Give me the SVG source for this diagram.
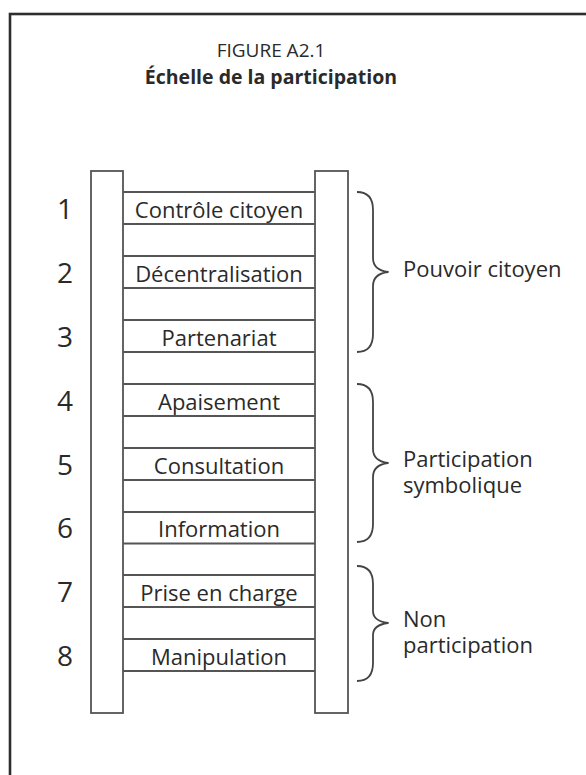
<svg xmlns="http://www.w3.org/2000/svg" width="586" height="775" viewBox="0 0 586 775">
<style>
  .frame{fill:none;stroke:#2e2e2e;stroke-width:2.6}
  .rail{fill:#fff;stroke:#555;stroke-width:1.8}
  .rung{stroke:#555;stroke-width:1.8}
  .t{font-family:"Open Sans","Liberation Sans",sans-serif;fill:#2a2a2a}
  .lab{font-size:22px;text-anchor:middle}
  .num{font-size:28px;text-anchor:middle}
  .side{font-size:22px}
  .brace{fill:none;stroke:#444;stroke-width:1.8;stroke-linejoin:round}
</style>
<rect width="586" height="775" fill="#fff"/>
<rect class="frame" x="10" y="14" width="620" height="800"/>
<g id="title">
  <text class="t" x="271" y="57" font-size="19" text-anchor="middle">FIGURE A2.1</text>
  <text class="t" x="271" y="84" font-size="19.5" font-weight="bold" text-anchor="middle">Échelle de la participation</text>
</g>
<g id="ladder">
  <rect class="rail" x="91" y="171" width="32" height="542"/>
  <rect class="rail" x="315" y="171" width="33" height="542"/>
</g>
<g id="rung1"><line class="rung" x1="123" y1="192" x2="315" y2="192"/><line class="rung" x1="123" y1="224" x2="315" y2="224"/><text class="t lab" x="219" y="218">Contrôle citoyen</text><text class="t num" x="65" y="219">1</text></g>
<g id="rung2"><line class="rung" x1="123" y1="256" x2="315" y2="256"/><line class="rung" x1="123" y1="288" x2="315" y2="288"/><text class="t lab" x="219" y="282">Décentralisation</text><text class="t num" x="65" y="283">2</text></g>
<g id="rung3"><line class="rung" x1="123" y1="320" x2="315" y2="320"/><line class="rung" x1="123" y1="352" x2="315" y2="352"/><text class="t lab" x="219" y="346">Partenariat</text><text class="t num" x="65" y="347">3</text></g>
<g id="rung4"><line class="rung" x1="123" y1="384" x2="315" y2="384"/><line class="rung" x1="123" y1="416" x2="315" y2="416"/><text class="t lab" x="219" y="410">Apaisement</text><text class="t num" x="65" y="411">4</text></g>
<g id="rung5"><line class="rung" x1="123" y1="448" x2="315" y2="448"/><line class="rung" x1="123" y1="480" x2="315" y2="480"/><text class="t lab" x="219" y="474">Consultation</text><text class="t num" x="65" y="475">5</text></g>
<g id="rung6"><line class="rung" x1="123" y1="512" x2="315" y2="512"/><line class="rung" x1="123" y1="543.5" x2="315" y2="543.5"/><text class="t lab" x="219" y="537">Information</text><text class="t num" x="65" y="538">6</text></g>
<g id="rung7"><line class="rung" x1="123" y1="575" x2="315" y2="575"/><line class="rung" x1="123" y1="607" x2="315" y2="607"/><text class="t lab" x="219" y="601">Prise en charge</text><text class="t num" x="65" y="602">7</text></g>
<g id="rung8"><line class="rung" x1="123" y1="639" x2="315" y2="639"/><line class="rung" x1="123" y1="671" x2="315" y2="671"/><text class="t lab" x="219" y="665">Manipulation</text><text class="t num" x="65" y="666">8</text></g>
<g id="connectors">
  <path class="brace" d="M357,192 Q373,192 373,210 L373,258 Q373,270 388,272 Q373,274 373,286 L373,334 Q373,352 357,352"/>
  <path class="brace" d="M357,384 Q373,384 373,402 L373,449 Q373,461 388,463 Q373,465 373,477 L373,524 Q373,542 357,542"/>
  <path class="brace" d="M357,566 Q373,566 373,584 L373,611 Q373,621 388,623 Q373,625 373,635 L373,663 Q373,681 357,681"/>
</g>
<g id="group-pouvoir"><text class="t side" x="403" y="277">Pouvoir citoyen</text></g>
<g id="group-symbolique"><text class="t side" x="403" y="467">Participation</text><text class="t side" x="403" y="493">symbolique</text></g>
<g id="group-non"><text class="t side" x="403" y="627">Non</text><text class="t side" x="403" y="653">participation</text></g>
</svg>
